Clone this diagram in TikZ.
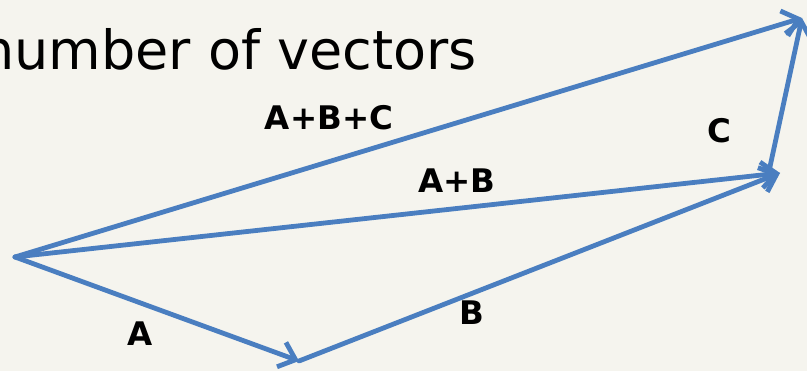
\documentclass[tikz,border=0pt]{standalone}
\usepackage{fontspec}
\setmainfont{DejaVu Sans}
\usetikzlibrary{arrows.meta, positioning}
\definecolor{vecblue}{HTML}{4A7EC0}
\definecolor{paper}{HTML}{F5F4EE}

\begin{document}
\begin{tikzpicture}[x=1pt, y=-1pt,
    vec/.style={-{Straight Barb[length=15pt, width=26pt]}, draw=vecblue, line width=4.8pt, line cap=round, line join=round},
    lbl/.style={font=\fontsize{32.5}{32.5}\selectfont\bfseries, text=black, inner sep=0pt},
    title/.style={font=\fontsize{54}{54}\selectfont, text=black, inner sep=0pt}
]
\fill[paper] (0,0) rectangle (807,371);
\useasboundingbox (0,0) rectangle (807,371);
\node[title, anchor=base east] (head) at (477,70) {number of vectors};
\coordinate (O) at (15,257);
\coordinate (PA) at (299,361);
\coordinate (PB) at (780,173);
\coordinate (Cs) at (768,176);
\coordinate (PC) at (802,18);
\draw[vec] (O) -- (PA);
\draw[vec] (PA) -- (PB);
\draw[vec] (O) -- (PB);
\draw[vec] (Cs) -- (PC);
\draw[vec] (O) -- (PC);
\node[lbl] (lA) at (140,334) {A};
\node[lbl] (lB) at (472,313) {B};
\node[lbl] (lAB) at (457,181) {A+B};
\node[lbl] (lC) at (719,131) {C};
\node[lbl] (lABC) at (329,118) {A+B+C};
\end{tikzpicture}
\end{document}
